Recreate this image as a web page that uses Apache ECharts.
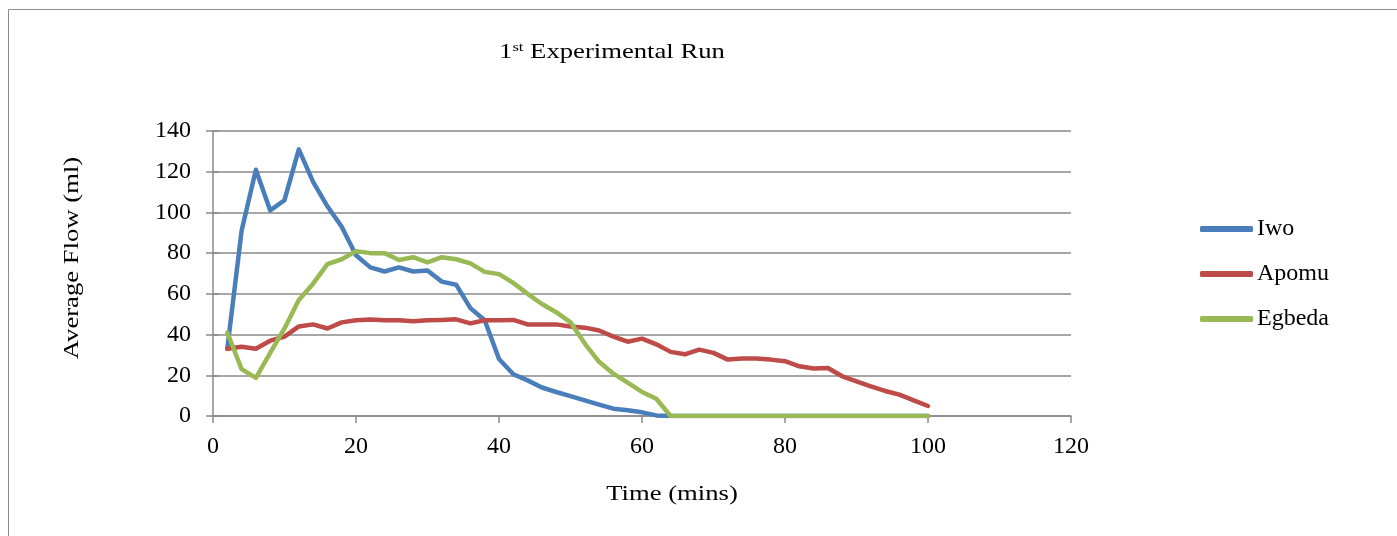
<!DOCTYPE html>
<html>
<head>
<meta charset="utf-8">
<title>1st Experimental Run</title>
<script src="https://cdn.jsdelivr.net/npm/echarts@6/dist/echarts.min.js"></script>
<style>
  html, body { margin: 0; padding: 0; background: #ffffff; }
  #chart { width: 1397px; height: 536px; }
</style>
</head>
<body>
<div id="chart"></div>
<script>
// Sampling times (minutes)
const times = [2, 4, 6, 8, 10, 12, 14, 16, 18, 20, 22, 24, 26, 28, 30, 32, 34, 36, 38, 40,
  42, 44, 46, 48, 50, 52, 54, 56, 58, 60, 62, 64, 66, 68, 70, 72, 74, 76, 78, 80,
  82, 84, 86, 88, 90, 92, 94, 96, 98, 100];

// Average flow (ml) per site
const iwo = [33, 91, 121, 101, 106, 131, 115, 103, 93, 79, 73, 71, 73, 71, 71.5, 66, 64.5, 53, 47, 28,
  20.5, 17.5, 14, 11.8, 9.8, 7.7, 5.6, 3.6, 2.8, 1.8, 0.3, 0, 0, 0, 0, 0, 0, 0, 0, 0,
  0, 0, 0, 0, 0, 0, 0, 0, 0, 0];
const apomu = [33, 34, 33, 37, 39, 44, 45, 43, 46, 47, 47.4, 47, 47, 46.5, 47, 47.2, 47.5, 45.5, 47, 47,
  47.2, 45, 45, 45, 44, 43.4, 42, 39, 36.5, 38, 35.2, 31.5, 30.3, 32.6, 31, 27.7, 28.2, 28.2, 27.7, 26.9,
  24.4, 23.3, 23.6, 19.5, 17, 14.6, 12.3, 10.5, 7.7, 4.9];
const egbeda = [41, 23, 18.7, 31, 43, 57, 65, 74.6, 77, 81, 80, 80, 76.6, 78, 75.5, 78, 77, 75, 70.8, 69.7,
  65.4, 60, 55, 51, 46, 35.6, 26.6, 20.8, 16.4, 11.8, 8.5, 0, 0, 0, 0, 0, 0, 0, 0, 0,
  0, 0, 0, 0, 0, 0, 0, 0, 0, 0];

const xTicks = { min: 0, max: 120, interval: 20 };
const yTicks = { min: 0, max: 140, interval: 20 };

const FONT = "'Times New Roman', 'Liberation Serif', serif";
const GRAY = '#8a8a8a';
const WIDE = 1.27; // horizontal stretch of the caption lettering

const pairs = (vals) => times.map((t, i) => [t, vals[i]]);

const chart = echarts.init(document.getElementById('chart'));

const lineSeries = (name, vals, color) => ({
  name: name,
  type: 'line',
  data: pairs(vals),
  symbol: 'none',
  smooth: false,
  lineStyle: { width: 4.5, color: color, cap: 'round', join: 'round' },
  itemStyle: { color: color },
  emphasis: { disabled: true },
  animation: false
});

chart.setOption({
  backgroundColor: '#ffffff',
  animation: false,
  textStyle: { fontFamily: FONT },
  grid: { left: 213, right: 326, top: 131, bottom: 120, containLabel: false },
  xAxis: {
    type: 'value',
    min: xTicks.min, max: xTicks.max, interval: xTicks.interval,
    axisLine: { show: true, lineStyle: { color: GRAY, width: 1.5 } },
    axisTick: { show: true, length: 7, lineStyle: { color: GRAY, width: 1.5 } },
    axisLabel: { color: '#000', fontSize: 24, fontFamily: FONT, margin: 19 },
    splitLine: { show: false }
  },
  yAxis: [{
    type: 'value',
    min: yTicks.min, max: yTicks.max, interval: yTicks.interval,
    axisLine: { show: true, lineStyle: { color: GRAY, width: 1.5 } },
    axisTick: { show: true, length: 7, lineStyle: { color: GRAY, width: 1.5 } },
    axisLabel: { color: '#000', fontSize: 24, fontFamily: FONT, margin: 22 },
    splitLine: { show: true, lineStyle: { color: GRAY, width: 1.5 } }
  }, {
    // inner half of the crossing tick marks on the value axis
    type: 'value', position: 'left',
    min: yTicks.min, max: yTicks.max, interval: yTicks.interval,
    axisLine: { show: false },
    axisTick: { show: true, inside: true, length: 6, lineStyle: { color: GRAY, width: 1.5 } },
    axisLabel: { show: false },
    splitLine: { show: false }
  }],
  legend: {
    orient: 'vertical',
    left: 1200,
    top: 217,
    padding: 0,
    itemGap: 21,
    itemWidth: 53,
    itemHeight: 6,
    icon: 'roundRect',
    textStyle: { color: '#000', fontSize: 24, fontFamily: FONT, padding: [0, 0, 0, -1] },
    data: ['Iwo', 'Apomu', 'Egbeda']
  },
  graphic: [
    {
      type: 'rect', silent: true, z: -1,
      shape: { x: 8.5, y: 9.5, width: 1500, height: 700 },
      style: { fill: 'none', stroke: '#8c8c8c', lineWidth: 1 }
    },
    {
      type: 'text', silent: true,
      x: 612, y: 52, scaleX: WIDE,
      style: {
        text: '{n|1}{s|st}{n| Experimental Run}',
        align: 'center', verticalAlign: 'middle',
        fontFamily: FONT,
        rich: {
          n: { fontSize: 21, fontFamily: FONT, fill: '#000', verticalAlign: 'bottom' },
          s: { fontSize: 13, fontFamily: FONT, fill: '#000', verticalAlign: 'top', padding: [0, 0, 8, 0] }
        }
      }
    },
    {
      type: 'text', silent: true,
      x: 672, y: 494, scaleX: WIDE,
      style: {
        text: 'Time (mins)', align: 'center', verticalAlign: 'middle',
        fontSize: 21, fontFamily: FONT, fill: '#000'
      }
    },
    {
      type: 'text', silent: true,
      x: 72, y: 258, rotation: Math.PI / 2, scaleX: WIDE,
      style: {
        text: 'Average Flow (ml)', align: 'center', verticalAlign: 'middle',
        fontSize: 21, fontFamily: FONT, fill: '#000'
      }
    }
  ],
  series: [
    lineSeries('Iwo', iwo, '#4a7ebb'),
    lineSeries('Apomu', apomu, '#be4b48'),
    lineSeries('Egbeda', egbeda, '#98b954')
  ]
});
</script>
</body>
</html>
